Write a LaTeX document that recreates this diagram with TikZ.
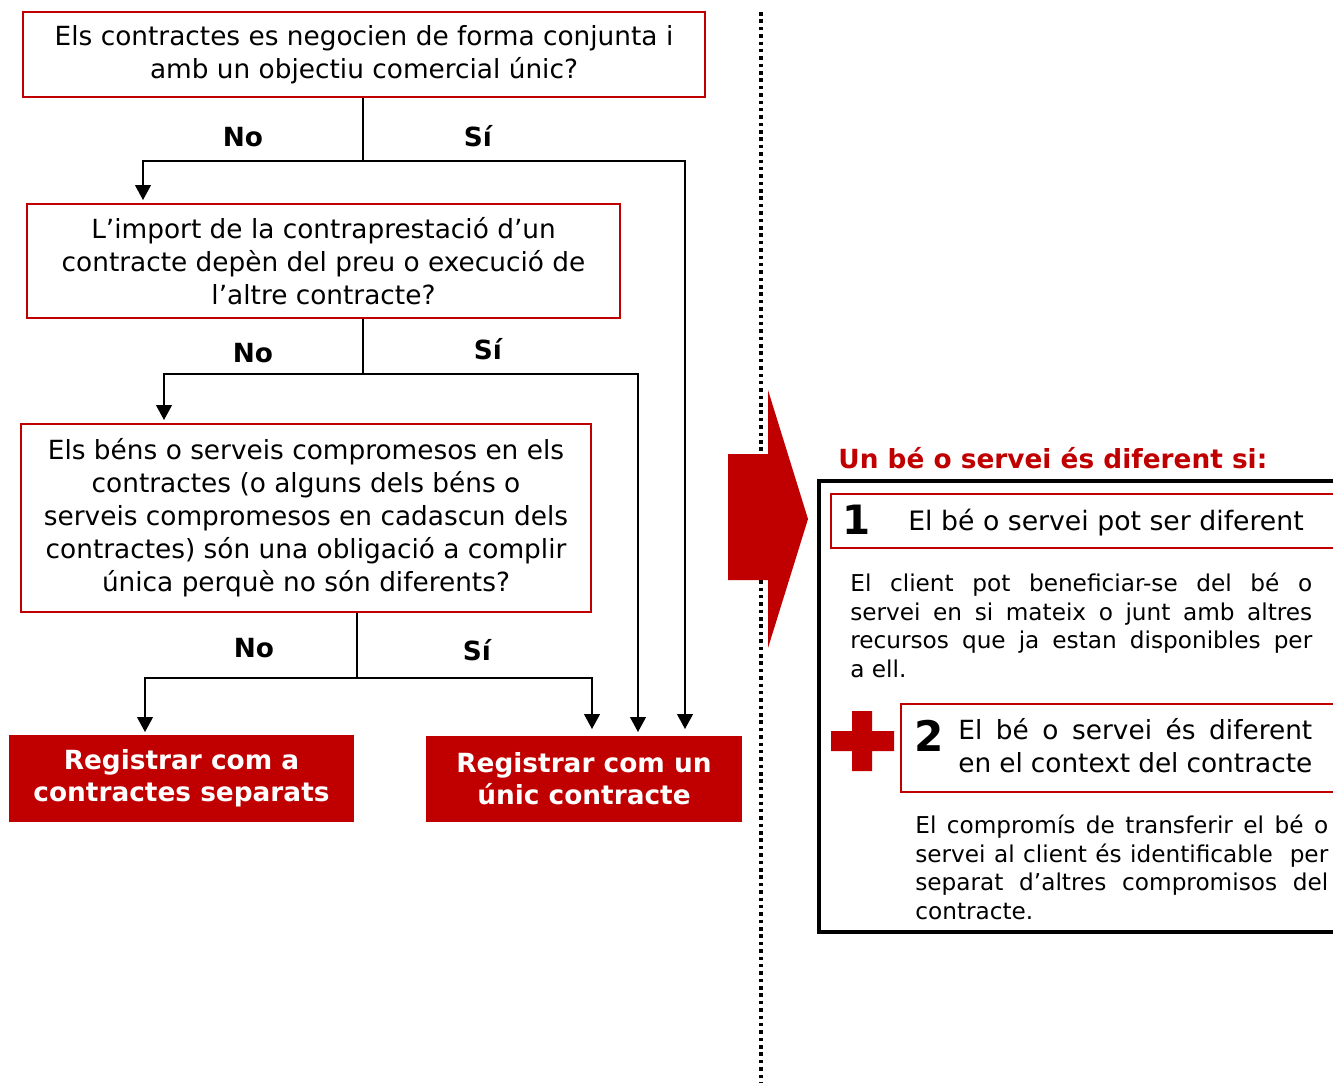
\documentclass[tikz,border=0pt]{standalone}
\usepackage{fontspec}
\setmainfont{DejaVu Sans}
\usetikzlibrary{arrows.meta}
\definecolor{vermell}{RGB}{192,0,0}

\begin{document}
\begin{tikzpicture}[x=0.02cm,y=-0.02cm,
		pregunta/.style={draw=vermell,line width=1.1pt,align=center,inner sep=0pt,font=\fontsize{15}{18.8}\selectfont},
		resultat/.style={fill=vermell,text=white,align=center,inner sep=0pt,font=\fontsize{15}{18.3}\selectfont\bfseries},
		resposta/.style={font=\fontsize{15}{18}\selectfont\bfseries},
		paragraf/.style={align=justify,inner sep=0pt,anchor=base west,font=\fontsize{13.2}{16.5}\selectfont},
		fletxa/.style={line width=0.9pt,-{Triangle[length=8.5pt,width=9pt]}},
		linia/.style={line width=0.9pt}]
			\useasboundingbox (0,0) rectangle (1333,1083);

			\draw[line width=2pt,dash pattern=on 2pt off 2.2pt] (761,12) -- (761,1083);

			\node[pregunta,minimum width=13.64cm,minimum height=1.7cm] (A) at (364,54.5) {Els contractes es negocien de forma conjunta i\\amb un objectiu comercial únic?};
			\node[pregunta,minimum width=11.86cm,minimum height=2.28cm] (B) at (323.5,261) {L’import de la contraprestació d’un\\contracte depèn del preu o execució de\\l’altre contracte?};
			\node[pregunta,minimum width=11.4cm,minimum height=3.76cm] (C) at (306,518) {Els béns o serveis compromesos en els\\contractes (o alguns dels béns o\\serveis compromesos en cadascun dels\\contractes) són una obligació a complir\\única perquè no són diferents?};
			\node[resultat,minimum width=6.9cm,minimum height=1.74cm] (D) at (181.5,778.5) {Registrar com a\\contractes separats};
			\node[resultat,minimum width=6.32cm,minimum height=1.72cm] (E) at (584,779) {Registrar com un\\únic contracte};

			\node[resposta] (noA) at (243,137) {No};
			\node[resposta] (siA) at (478,136) {Sí};
			\node[resposta] (noB) at (253,353) {No};
			\node[resposta] (siB) at (488,349) {Sí};
			\node[resposta] (noC) at (254,648) {No};
			\node[resposta] (siC) at (477,650) {Sí};

			\coordinate (nA) at (363,161);
			\coordinate (nB) at (363,374);
			\coordinate (nC) at (357,678);
			\coordinate (pB) at (143,200);
			\coordinate (pC) at (164,420);
			\coordinate (pD) at (145,732);
			\coordinate (pE1) at (685,729);
			\coordinate (pE2) at (638,732);
			\coordinate (pE3) at (592,729);

			\draw[linia] (nA |- A.south) -- (nA);
			\draw[fletxa] (nA) -| (pB);
			\draw[fletxa] (nA) -| (pE1);
			\draw[linia] (nB |- B.south) -- (nB);
			\draw[fletxa] (nB) -| (pC);
			\draw[fletxa] (nB) -| (pE2);
			\draw[linia] (nC |- C.south) -- (nC);
			\draw[fletxa] (nC) -| (pD);
			\draw[fletxa] (nC) -| (pE3);

			\fill[vermell] (728,454) -- (768,454) -- (768,390) -- (808,519) -- (768,648) -- (768,580) -- (728,580) -- cycle;

			\node[anchor=west,text=vermell,inner sep=0pt,font=\fontsize{15}{18}\selectfont\bfseries] (titol) at (838,458) {Un bé o servei és diferent si:};
			\draw[line width=1.8pt] (1345,481) -- (819,481) -- (819,932) -- (1345,932);

			\draw[draw=vermell,line width=1.1pt] (1345,494) -- (831,494) -- (831,548) -- (1345,548);
			\node[inner sep=0pt,font=\fontsize{23}{23}\selectfont\bfseries] (u) at (857,520) {1};
			\node[anchor=base west,inner sep=0pt,font=\fontsize{15.2}{18}\selectfont] (criteri1) at (908,530) {El bé o servei pot ser diferent};
			\node[paragraf,text width=9.24cm] (text1) at (850,591) {El client pot beneficiar-se del bé o\linebreak servei en si mateix o junt amb altres\linebreak recursos que ja estan disponibles per\linebreak a ell.};

			\fill[vermell] (852,711) -- (872,711) -- (872,731) -- (894,731) -- (894,751) -- (872,751) -- (872,771) -- (852,771) -- (852,751) -- (831,751) -- (831,731) -- (852,731) -- cycle;
			\draw[draw=vermell,line width=1.1pt] (1345,704) -- (901,704) -- (901,792) -- (1345,792);
			\node[inner sep=0pt,font=\fontsize{24}{24}\selectfont\bfseries] (dos) at (929,736) {2};
			\node[paragraf,text width=7.08cm,font=\fontsize{15}{18.8}\selectfont] (criteri2) at (958,739) {El bé o servei és diferent\linebreak en el context del contracte};
			\node[paragraf,text width=8.26cm] (text2) at (915,833) {El compromís de transferir el bé o\linebreak servei al client és identificable\ \ per\linebreak separat d’altres compromisos del\linebreak contracte.};
		\end{tikzpicture}
\end{document}
